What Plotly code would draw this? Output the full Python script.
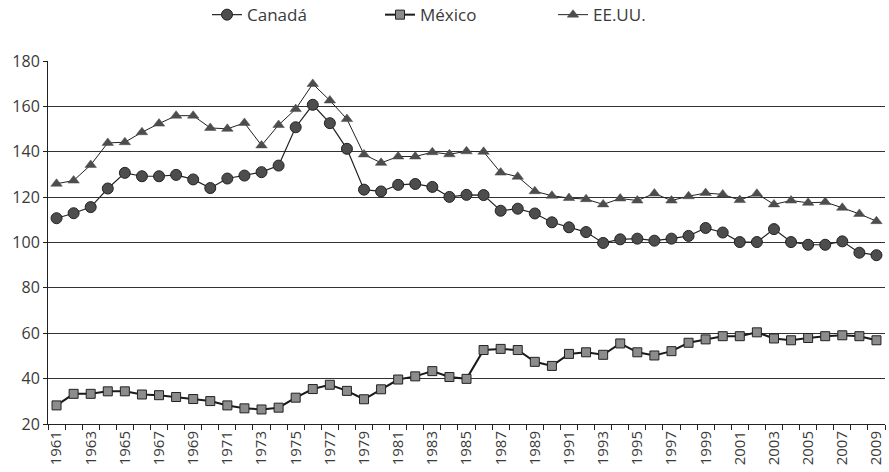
import plotly.graph_objects as go

years = list(range(1961, 2010))

canada = [110.7, 112.9, 115.6, 123.8, 130.7, 129.2, 129.2, 129.8, 127.8, 124.0,
          128.2, 129.5, 131.0, 133.9, 150.8, 160.7, 152.6, 141.3, 123.3, 122.5,
          125.4, 125.8, 124.5, 120.1, 121.0, 120.9, 114.0, 114.9, 112.8, 108.9,
          106.7, 104.6, 99.8, 101.4, 101.7, 100.8, 101.7, 102.9, 106.4, 104.4,
          100.2, 100.2, 105.9, 100.2, 99.0, 99.0, 100.5, 95.5, 94.4]

mexico = [28.2, 33.3, 33.3, 34.4, 34.4, 33.0, 32.7, 31.9, 31.0, 30.1,
          28.2, 26.9, 26.4, 27.2, 31.6, 35.4, 37.3, 34.6, 30.9, 35.3,
          39.6, 41.0, 43.3, 40.7, 39.9, 52.6, 53.1, 52.6, 47.4, 45.6,
          50.9, 51.6, 50.5, 55.5, 51.6, 50.2, 52.1, 55.8, 57.3, 58.7,
          58.7, 60.4, 57.7, 56.9, 57.9, 58.7, 59.1, 58.7, 56.9]

eeuu = [125.9, 127.3, 134.2, 143.9, 144.2, 148.6, 152.4, 155.9, 155.9, 150.5,
        150.1, 152.7, 142.8, 151.8, 158.8, 169.9, 162.6, 154.4, 138.8, 135.1,
        137.9, 137.9, 139.8, 138.9, 140.2, 140.0, 130.8, 129.0, 122.6, 120.6,
        119.6, 119.1, 116.8, 119.4, 118.5, 121.6, 118.5, 120.4, 121.8, 121.2,
        118.7, 121.5, 116.8, 118.5, 117.5, 117.8, 115.3, 112.6, 109.4]

label_years = list(range(1961, 2010, 2))
y_ticks = list(range(20, 181, 20))

FONT = "Open Sans, Lato, sans-serif"
TXT = "#3a3a3a"

fig = go.Figure()
fig.add_trace(go.Scatter(
    x=years, y=canada, name="Canadá", mode="lines+markers",
    line=dict(color="#222222", width=1.2),
    marker=dict(symbol="circle", size=11, color="#4d4d4d",
                line=dict(color="#222222", width=1))))
fig.add_trace(go.Scatter(
    x=years, y=mexico, name="México", mode="lines+markers",
    line=dict(color="#1a1a1a", width=2),
    marker=dict(symbol="square", size=9, color="#8c8c8c",
                line=dict(color="#222222", width=1))))
fig.add_trace(go.Scatter(
    x=years, y=eeuu, name="EE.UU.", mode="lines+markers",
    line=dict(color="#222222", width=1),
    marker=dict(symbol="triangle-up", size=10, color="#4d4d4d",
                line=dict(color="#4d4d4d", width=0.5))))

fig.update_layout(
    width=889, height=472,
    margin=dict(l=48, r=4, t=61, b=48),
    paper_bgcolor="white", plot_bgcolor="white",
    font=dict(family=FONT, size=15, color=TXT),
    showlegend=True,
    legend=dict(orientation="h", x=0.5, xanchor="center", y=0.968, yanchor="middle",
                yref="container", font=dict(size=17, color=TXT),
                entrywidth=128, entrywidthmode="pixels",
                itemsizing="trace"),
    xaxis=dict(range=[1960.5, 2009.5], tickmode="array", tickvals=label_years,
               ticktext=[str(y) for y in label_years], tickangle=-90,
               ticks="", showgrid=False, showline=True, linecolor="#222222",
               linewidth=1, zeroline=False, automargin=False,
               tickfont=dict(size=15, color=TXT),
               minor=dict(tick0=1960.5, dtick=1, ticks="outside", ticklen=5,
                          tickcolor="#222222", showgrid=False)),
    yaxis=dict(range=[20, 180], tickmode="array", tickvals=y_ticks,
               showgrid=True, gridcolor="#333333", gridwidth=1,
               showline=True, linecolor="#222222", linewidth=1,
               ticks="outside", ticklen=4, tickcolor="#222222",
               zeroline=False, automargin=False,
               tickfont=dict(size=16, color=TXT)),
)

fig.write_html("out.html", config={"displayModeBar": False},
               post_script="document.body.style.margin='0';")
